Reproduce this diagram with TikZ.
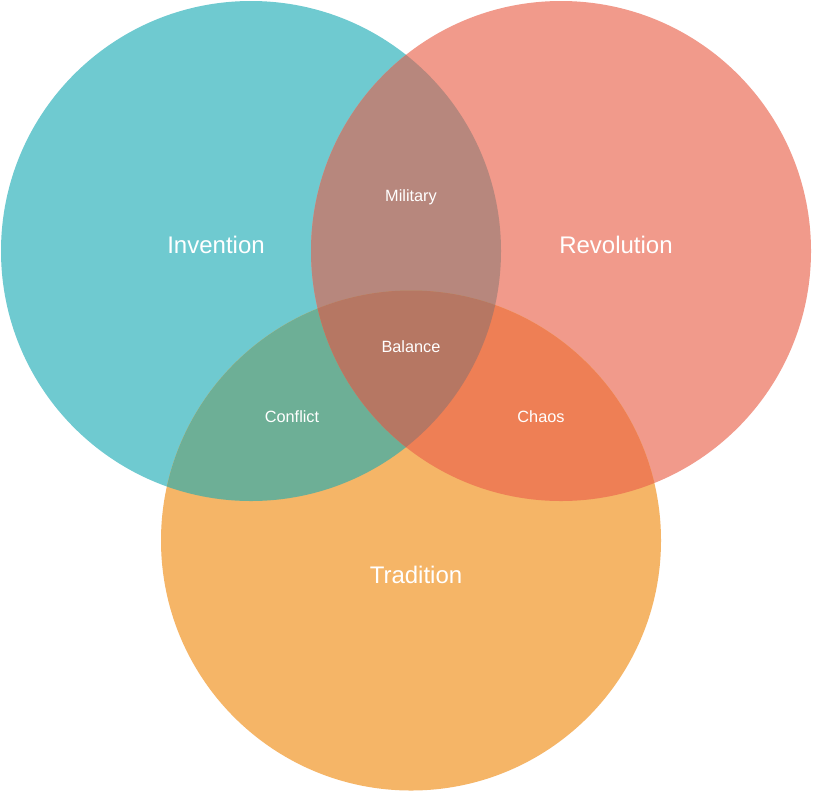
\documentclass[tikz,border=0pt]{standalone}
\usepackage{fontspec}
\setmainfont{Liberation Sans}
\definecolor{inv}{HTML}{6FCAD0}
\definecolor{rev}{HTML}{F19A8B}
\definecolor{tra}{HTML}{F5B567}
\definecolor{invrev}{HTML}{B7877D}
\definecolor{invtra}{HTML}{6DAF96}
\definecolor{revtra}{HTML}{EE7F55}
\definecolor{allthree}{HTML}{B67763}
\tikzset{
  biglabel/.style={text=white, font=\fontsize{24}{28}\selectfont, inner sep=0pt},
  smalllabel/.style={text=white, font=\fontsize{16.3}{19}\selectfont, inner sep=0pt},
}
\begin{document}
\begin{tikzpicture}[x=1pt,y=-1pt]
\useasboundingbox (0,0) rectangle (813,793);
\fill[white] (0,0) rectangle (813,793);
% set circles
\def\cInv{(251,251) circle[radius=250]}
\def\cRev{(561,251) circle[radius=250]}
\def\cTra{(411,540.5) circle[radius=250]}
\fill[inv] \cInv;
\fill[rev] \cRev;
\fill[tra] \cTra;
% pairwise overlaps
\begin{scope}\clip \cInv; \fill[invrev] \cRev; \end{scope}
\begin{scope}\clip \cInv; \fill[invtra] \cTra; \end{scope}
\begin{scope}\clip \cRev; \fill[revtra] \cTra; \end{scope}
% centre region
\begin{scope}\clip \cInv; \clip \cRev; \fill[allthree] \cTra; \end{scope}
% labels
\node[biglabel] (invention) at (216,245) {Invention};
\node[biglabel] (revolution) at (616,245) {Revolution};
\node[biglabel] (tradition) at (416,575) {Tradition};
\node[smalllabel] (military) at (411,197) {Military};
\node[smalllabel] (balance) at (411,347) {Balance};
\node[smalllabel] (conflict) at (292,417) {Conflict};
\node[smalllabel] (chaos) at (541,417) {Chaos};
\end{tikzpicture}
\end{document}
